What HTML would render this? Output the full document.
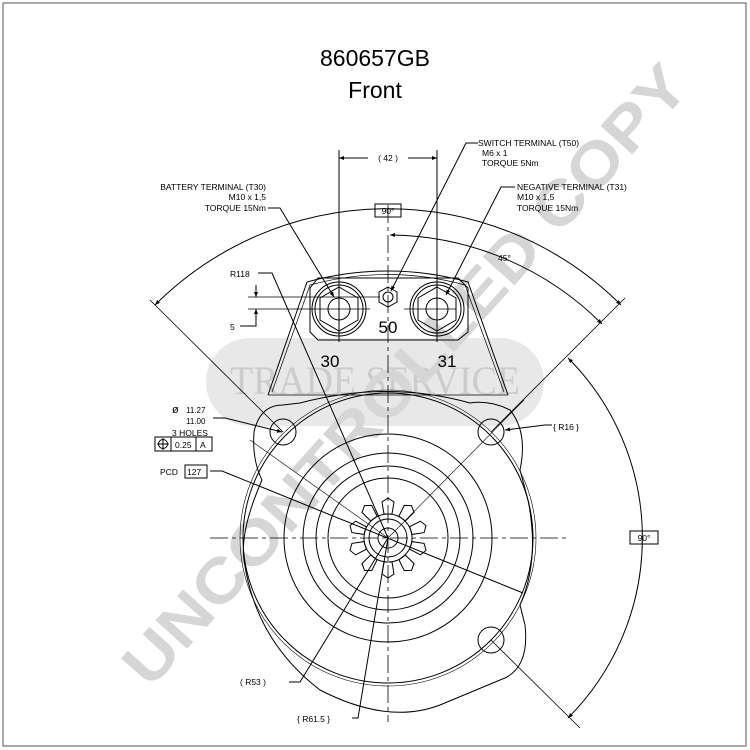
<!DOCTYPE html>
<html><head><style>
html,body{margin:0;padding:0;background:#fff;}
svg{display:block;font-family:"Liberation Sans",sans-serif;}
</style></head><body>
<svg width="750" height="750" viewBox="0 0 750 750" xmlns="http://www.w3.org/2000/svg">
<defs>
<marker id="a" viewBox="0 0 10 10" refX="10" refY="5" markerWidth="7" markerHeight="5" orient="auto-start-reverse"><path d="M0,1 L10,5 L0,9 z" fill="#000"/></marker>
</defs>
<rect x="3" y="3" width="743" height="743" fill="#fff" stroke="#555" stroke-width="1"/>
<rect x="206" y="338" width="338" height="88" rx="44" fill="#e8e8e8"/>
<text x="375" y="394" text-anchor="middle" font-size="40" fill="#cccccc" font-family="Liberation Serif,serif" textLength="290" lengthAdjust="spacingAndGlyphs">TRADE SERVICE</text>
<text x="0" y="0" transform="translate(150,690) rotate(-48)" font-size="62" font-weight="bold" fill="#d6d6d6" textLength="810" lengthAdjust="spacingAndGlyphs">UNCONTROLLED COPY</text>

<text x="375" y="66" text-anchor="middle" font-size="23">860657GB</text>
<text x="375" y="98" text-anchor="middle" font-size="23">Front</text>

<g fill="none" stroke="#000" stroke-width="1">
<path d="M268,395 L307,282 Q388,260 468,282 L508,395" />
<path d="M272,392 L310,285 Q388,264 465,285 L504,392" stroke-width="0.7"/>
<path d="M268,395 H508" stroke-width="0.8"/>
<path d="M283,405 Q260,405 254,432 Q252,460 262,480 Q240,530 244,560 Q255,640 320,690 Q388,725 440,705 L500,680 Q530,670 525,625 L520,605 Q540,560 528,500 L520,470 Q528,432 510,410 Q490,400 470,403 Q388,380 300,403 Z"/>
<circle cx="388" cy="538" r="145"/>
<circle cx="388" cy="538" r="148" stroke-width="0.6"/>
<circle cx="388" cy="538" r="104"/>
<circle cx="388" cy="538" r="85"/>
<circle cx="388" cy="538" r="72"/>
<circle cx="388" cy="538" r="60"/>
<circle cx="388" cy="538" r="19"/>
<circle cx="388" cy="538" r="10"/>
<circle cx="388" cy="538" r="24"/>
<g transform="translate(388,538)">
<path d="M0,-40 l6,4 l-2,12 h-8 l-2,-12z" transform="rotate(0)"/>
<path d="M0,-40 l6,4 l-2,12 h-8 l-2,-12z" transform="rotate(36)"/>
<path d="M0,-40 l6,4 l-2,12 h-8 l-2,-12z" transform="rotate(72)"/>
<path d="M0,-40 l6,4 l-2,12 h-8 l-2,-12z" transform="rotate(108)"/>
<path d="M0,-40 l6,4 l-2,12 h-8 l-2,-12z" transform="rotate(144)"/>
<path d="M0,-40 l6,4 l-2,12 h-8 l-2,-12z" transform="rotate(180)"/>
<path d="M0,-40 l6,4 l-2,12 h-8 l-2,-12z" transform="rotate(216)"/>
<path d="M0,-40 l6,4 l-2,12 h-8 l-2,-12z" transform="rotate(252)"/>
<path d="M0,-40 l6,4 l-2,12 h-8 l-2,-12z" transform="rotate(288)"/>
<path d="M0,-40 l6,4 l-2,12 h-8 l-2,-12z" transform="rotate(324)"/>
</g>
<circle cx="283" cy="432" r="13"/>
<circle cx="491" cy="432" r="13"/>
<circle cx="491" cy="640" r="13"/>
<path d="M318,278 H458 L468,288 V332 L458,340 H318 L310,332 V288 Z"/>
<circle cx="339" cy="309" r="27"/><circle cx="339" cy="309" r="24"/>
<polygon points="339,287 358,298 358,320 339,331 320,320 320,298"/>
<circle cx="339" cy="309" r="11"/>
<circle cx="437" cy="309" r="27"/><circle cx="437" cy="309" r="24"/>
<polygon points="437,287 456,298 456,320 437,331 418,320 418,298"/>
<circle cx="437" cy="309" r="11"/>
<polygon points="388,287 397,292 397,302 388,307 379,302 379,292"/>
<circle cx="388" cy="297" r="5"/>
<path d="M210,538 H566" stroke-dasharray="18,4,4,4" stroke-width="0.8"/>
<path d="M388,205 V722" stroke-dasharray="18,4,4,4" stroke-width="0.8"/>
<path d="M320,309 H370 M404,309 H456 M248,297 H380 M248,309 H320" stroke-width="0.8"/>
<path d="M339,150 V342 M437,150 V342"/>
<path d="M339,158 H368" marker-start="url(#a)"/>
<path d="M408,158 H437" marker-end="url(#a)"/>
<path d="M256,285 V297" marker-end="url(#a)"/>
<path d="M256,322 V309" marker-end="url(#a)"/>
<path d="M240,326 H256 V322"/>
<path d="M155,305 A330,330 0 0 1 621,305" marker-start="url(#a)" marker-end="url(#a)"/>
<path d="M390,235 A303,303 0 0 1 602,324" marker-start="url(#a)" marker-end="url(#a)"/>
<path d="M568,358 A255,255 0 0 1 568,718" marker-start="url(#a)" marker-end="url(#a)"/>
<path d="M283,432 L150,300 M491,432 L625,298 M491,640 L580,728" stroke-width="0.8"/>
<path d="M268,208 H280 L334,297" marker-end="url(#a)"/>
<path d="M478,143 H466 L391,291" marker-end="url(#a)"/>
<path d="M515,187 H501 L446,295" marker-end="url(#a)"/>
<path d="M258,273 H272 L388,538"/>
<path d="M213,418 H225 L282,432" marker-end="url(#a)"/>
<path d="M210,471 H222 L523,593"/>
<path d="M552,425 H545 L505,430" marker-end="url(#a)"/>
<path d="M289,682 H300 L388,538"/>
<path d="M352,718 H358 L388,538"/>
<path d="M250,440 L388,538 M524,400 L388,538" stroke-width="0.6"/>
<rect x="375" y="204" width="26" height="13"/>
<rect x="630" y="531" width="28" height="13"/>
<rect x="155" y="437" width="57" height="14"/>
<path d="M171,437 V451 M196,437 V451"/>
<circle cx="163" cy="444" r="4.5"/><path d="M157,444 H169 M163,438 V450"/>
<rect x="185" y="465" width="22" height="13"/>
</g>

<g font-size="8.5" fill="#000">
<text x="478" y="146">SWITCH TERMINAL (T50)</text>
<text x="482" y="156">M6 x 1</text>
<text x="482" y="166">TORQUE 5Nm</text>
<text x="266" y="190" text-anchor="end">BATTERY TERMINAL (T30)</text>
<text x="266" y="200" text-anchor="end">M10 x 1,5</text>
<text x="266" y="211" text-anchor="end">TORQUE 15Nm</text>
<text x="517" y="190">NEGATIVE TERMINAL (T31)</text>
<text x="517" y="200">M10 x 1,5</text>
<text x="517" y="211">TORQUE 15Nm</text>
<text x="388" y="161" text-anchor="middle">( 42 )</text>
<text x="388" y="214" text-anchor="middle">90°</text>
<text x="644" y="541" text-anchor="middle">90°</text>
<text x="498" y="261">45°</text>
<text x="230" y="277">R118</text>
<text x="230" y="330">5</text>
<text x="186" y="413" font-size="8">11.27</text>
<text x="186" y="424" font-size="8">11.00</text>
<text x="172" y="413" font-size="11">ø</text>
<text x="172" y="436">3 HOLES</text>
<text x="175" y="448">0.25</text>
<text x="200" y="448">A</text>
<text x="160" y="475">PCD</text>
<text x="187" y="475">127</text>
<text x="553" y="430">{ R16 }</text>
<text x="240" y="685">( R53 )</text>
<text x="297" y="722">{ R61.5 }</text>
</g>
<g font-size="17" fill="#000">
<text x="388" y="333" text-anchor="middle">50</text>
<text x="330" y="367" text-anchor="middle">30</text>
<text x="447" y="367" text-anchor="middle">31</text>
</g>
</svg>
</body></html>
